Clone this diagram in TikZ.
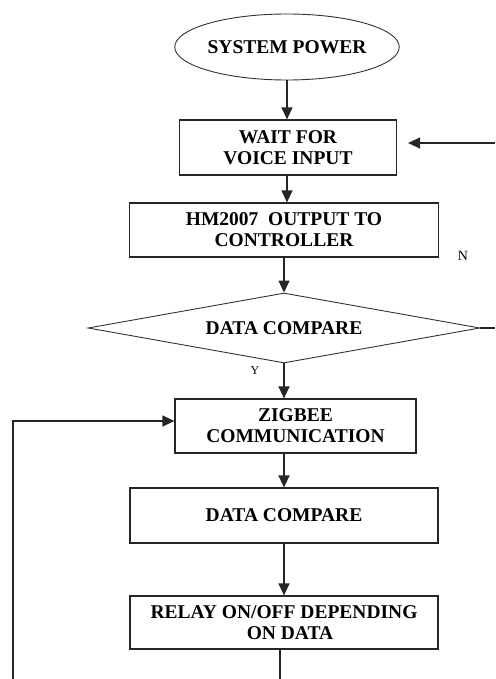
\documentclass[tikz,border=0pt]{standalone}
\usepackage{fontspec}
\setmainfont{Liberation Serif}
\usetikzlibrary{shapes.geometric,arrows.meta}
\tikzset{
  every node/.style={font=\bfseries\fontsize{19.5}{21}\selectfont, align=center, inner sep=0pt},
  line/.style={draw=black!85, line width=1.3pt},
  arr/.style={line, -{Triangle[length=12pt,width=11pt]}},
  procbox/.style={rectangle, draw=black!85, line width=1.2pt, fill=white},
  oval/.style={ellipse, draw=black!80, line width=0.9pt, minimum width=220pt, minimum height=66pt},
  decide/.style={diamond, draw=black!80, line width=0.9pt, minimum width=392pt, minimum height=70pt, shape aspect=5.6},
  lbl/.style={font=\fontsize{14}{16}\selectfont}
}
\begin{document}
\begin{tikzpicture}[x=1pt,y=-1pt]
\useasboundingbox[fill=white] (0,0) rectangle (495,679);
\node[oval] (pow) at (287,47) {SYSTEM POWER};
\node[procbox, minimum width=217pt, minimum height=55pt] (wait) at (288,147.5) {WAIT FOR\\VOICE INPUT};
\node[procbox, minimum width=309pt, minimum height=54pt] (hm) at (284,230) {HM2007\ \ OUTPUT TO\\CONTROLLER};
\node[decide] (dc1) at (284,328) {DATA COMPARE};
\node[procbox, minimum width=241pt, minimum height=54pt] (zig) at (295.5,426) {ZIGBEE\\COMMUNICATION};
\node[procbox, minimum width=308pt, minimum height=55pt] (dc2) at (284,515.5) {DATA COMPARE};
\node[procbox, minimum width=308pt, minimum height=53pt] (relay) at (284,622.5) {RELAY ON/OFF DEPENDING\\\hspace*{12pt}ON DATA};
\node[lbl] (n) at (463,256) {N};
\node[lbl, font=\fontsize{12}{14}\selectfont] (y) at (255,371) {Y};
\coordinate (re) at (495,143);
\coordinate (dcr) at (495,328);
\coordinate (lb) at (13,679);
\coordinate (bot) at (280,679);
\draw[arr] (pow.south) -- (pow.south |- wait.north);
\draw[arr] (wait.south -| pow.south) -- (pow.south |- hm.north);
\draw[arr] (hm.south) -- (dc1.north);
\draw[arr] (dc1.south) -- (dc1.south |- zig.north);
\draw[arr] (dc2.north |- zig.south) -- (dc2.north);
\draw[arr] (dc2.south) -- (relay.north);
\draw[line] (relay.south -| bot) -- (bot);
\draw[arr] (lb) |- ([yshift=5pt]zig.west);
\draw[arr] (re) -- ([xshift=11pt, yshift=4.5pt]wait.east);
\draw[line] (dc1.east) -- (dcr);
\end{tikzpicture}
\end{document}
